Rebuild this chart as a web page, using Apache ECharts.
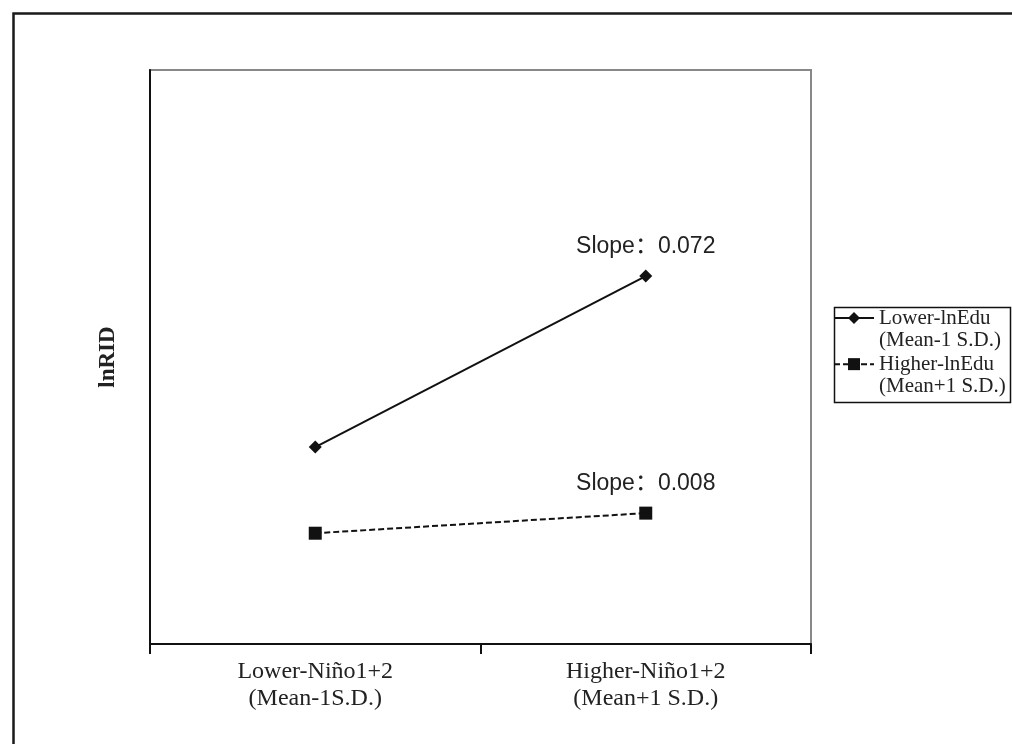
<!DOCTYPE html>
<html>
<head>
<meta charset="utf-8">
<script src="https://cdn.jsdelivr.net/npm/echarts@6/dist/echarts.min.js"></script>
<style>html,body{margin:0;padding:0;background:#fff;}#c{width:1012px;height:744px;}</style>
</head>
<body>
<div id="c"></div>
<script>
var categories = ['Lower-Niño1+2\n(Mean-1S.D.)', 'Higher-Niño1+2\n(Mean+1 S.D.)'];
var seriesNames = ['Lower-lnEdu', 'Higher-lnEdu'];
var seriesSubNames = ['(Mean-1 S.D.)', '(Mean+1 S.D.)'];
var lowerEdu = [0.343, 0.641];
var higherEdu = [0.193, 0.228];
var slopeLabels = ['Slope：0.072', 'Slope：0.008'];
var yAxisName = 'lnRID';

var chart = echarts.init(document.getElementById('c'), null, {renderer: 'canvas'});
var serif = '"Liberation Serif", "Times New Roman", serif';
var sans = '"Liberation Sans", Arial, "Noto Sans CJK SC", sans-serif';

function mkData(vals, label) {
  return vals.map(function (v, i) {
    if (i === vals.length - 1) {
      return {value: v, label: {show: true, position: 'top', distance: 11, formatter: label,
        fontFamily: sans, fontSize: 23, color: '#222'}};
    }
    return v;
  });
}

chart.setOption({
  animation: false,
  backgroundColor: '#fff',
  graphic: [{
    type: 'rect', left: 11, top: 11, silent: true,
    shape: {x: 0, y: 0, width: 1010, height: 750},
    style: {fill: 'none', stroke: '#1a1a1a', lineWidth: 2.5}
  }, {
    type: 'rect', left: 832, top: 305, silent: true,
    shape: {x: 0, y: 0, width: 176, height: 95},
    style: {fill: 'none', stroke: '#111', lineWidth: 1.5}
  }],
  grid: {left: 150, top: 70, right: 201, bottom: 100, show: true, borderColor: '#888', borderWidth: 2, backgroundColor: 'transparent'},
  legend: {
    orient: 'vertical', left: 833, top: 284,
    padding: 0,
    itemWidth: 40, itemHeight: 15, itemGap: -22,
    textStyle: {fontFamily: serif, fontSize: 21, color: '#222', lineHeight: 22.7},
    formatter: function (name) {
      var i = seriesNames.indexOf(name);
      return ' \n' + name + '\n' + seriesSubNames[i];
    },
    data: seriesNames
  },
  xAxis: {
    type: 'category', data: categories, boundaryGap: true,
    axisLine: {lineStyle: {color: '#111', width: 2}},
    axisTick: {show: true, length: 10, lineStyle: {color: '#111', width: 2}},
    axisLabel: {fontFamily: serif, fontSize: 24, color: '#222', lineHeight: 27, margin: 14}
  },
  yAxis: {
    type: 'value', min: 0, max: 1,
    name: yAxisName, nameLocation: 'middle', nameRotate: 90, nameGap: 30,
    nameTextStyle: {fontFamily: serif, fontSize: 23, fontWeight: 'bold', color: '#222'},
    axisLine: {show: true, lineStyle: {color: '#111', width: 2}},
    axisTick: {show: false}, axisLabel: {show: false}, splitLine: {show: false}
  },
  series: [{
    name: seriesNames[0], type: 'line', data: mkData(lowerEdu, slopeLabels[0]),
    symbol: 'diamond', symbolSize: 13,
    lineStyle: {color: '#111', width: 2}, itemStyle: {color: '#111'}
  }, {
    name: seriesNames[1], type: 'line', data: mkData(higherEdu, slopeLabels[1]),
    symbol: 'rect', symbolSize: 13,
    lineStyle: {color: '#111', width: 2, type: [6, 3]}, itemStyle: {color: '#111'}
  }]
});
</script>
</body>
</html>
